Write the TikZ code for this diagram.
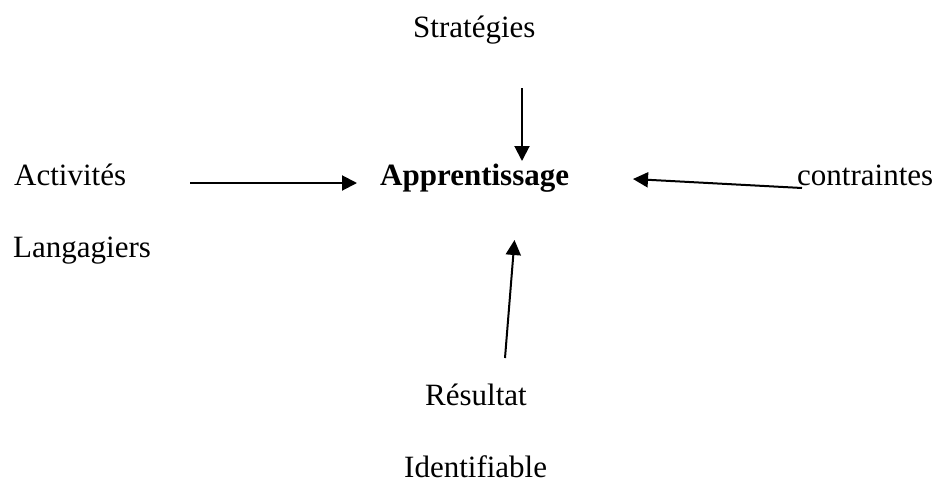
\documentclass[tikz,border=0pt]{standalone}
\usepackage{fontspec}
\setmainfont{Liberation Serif}
\usetikzlibrary{arrows.meta}
\begin{document}
\begin{tikzpicture}[x=1pt,y=-1pt,
  lbl/.style={anchor=base west,inner sep=0pt,font=\fontsize{31}{36}\selectfont},
  arr/.style={line width=2pt,-{Triangle[length=15pt,width=15pt]}}]
\useasboundingbox (0,0) rectangle (938,480);
\node[lbl] (strat) at (413,37) {Stratégies};
\node[lbl] (activ) at (14,185) {Activités};
\node[lbl] (lang) at (13,257) {Langagiers};
\node[lbl,font=\fontsize{31}{36}\selectfont\bfseries] (appr) at (380,185) {Apprentissage};
\node[lbl] (contr) at (797,185) {contraintes};
\node[lbl] (res) at (425,405) {Résultat};
\node[lbl] (ident) at (404,477) {Identifiable};
\coordinate (a1s) at (190,183);
\coordinate (a1e) at (357,183);
\coordinate (a2s) at (802,188);
\coordinate (a2e) at (633,179);
\coordinate (a3s) at (522,88);
\coordinate (a3e) at (522,161);
\coordinate (a4s) at (505,358);
\coordinate (a4e) at (514.5,240);
\draw[arr] (a1s) -- (a1e);
\draw[arr] (a2s) -- (a2e);
\draw[arr] (a3s) -- (a3e);
\draw[arr] (a4s) -- (a4e);
\end{tikzpicture}
\end{document}
